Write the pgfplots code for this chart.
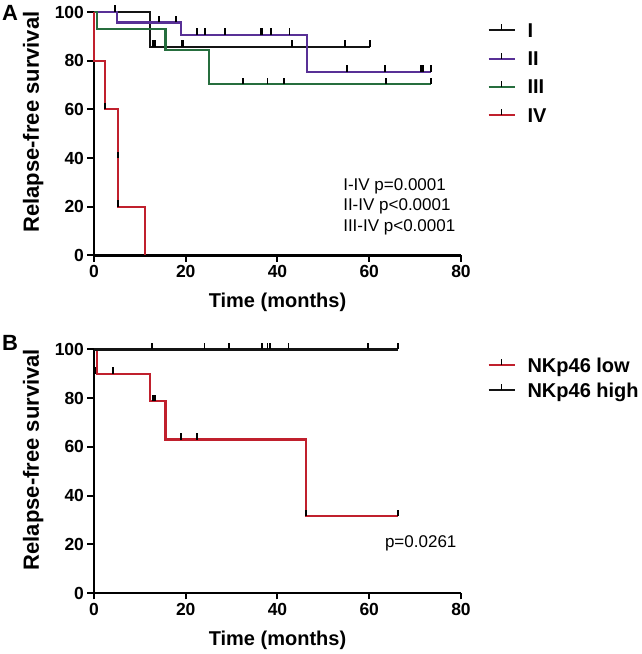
\documentclass[border=0pt]{standalone}
\usepackage{fontspec}
\setmainfont{Liberation Sans}
\usepackage{pgfplots}
\pgfplotsset{compat=1.18}
\definecolor{cI}{RGB}{20,20,20}
\definecolor{cII}{RGB}{88,48,150}
\definecolor{cIII}{RGB}{38,110,62}
\definecolor{cIV}{RGB}{192,32,45}
\pgfdeclareplotmark{cens}{\pgfpathmoveto{\pgfqpoint{0pt}{0pt}}\pgfpathlineto{\pgfqpoint{0pt}{6.5pt}}\pgfusepathqstroke}
\pgfplotsset{
  kmaxis/.style={
    scale only axis, width=367pt, height=243.5pt,
    xmin=0, xmax=80, ymin=0, ymax=100,
    axis x line*=bottom, axis y line*=left,
    axis line style={line width=2.3pt,-},
    xtick={0,20,...,80}, ytick={0,20,...,100},
    tick align=outside, major tick length=6.5pt,
    tick style={black,line width=2pt},
    /pgf/number format/assume math mode=true,
    ticklabel style={font=\fontsize{17.5}{17.5}\selectfont\bfseries},
    xlabel={Time (months)}, ylabel={Relapse-free survival},
    xlabel style={font=\fontsize{20}{20}\selectfont\bfseries, at={(axis description cs:0.5,-0.193)},anchor=center},
    ylabel style={font=\fontsize{22}{22}\selectfont\bfseries, at={(axis description cs:-0.166,0.548)},anchor=center},
    clip=false,
    legend cell align=left,
    legend image code/.code={
      \path[draw=none,fill=none] (0pt,-7pt) rectangle (26pt,7pt);
      \draw[##1,line width=2pt] (0pt,0pt)--(26pt,0pt);
      \draw[black,line width=1.8pt] (13pt,0pt)--(13pt,6pt);},
    legend style={draw=none, fill=none, anchor=north west,
      font=\fontsize{20}{20}\selectfont\bfseries,
      nodes={inner sep=0pt, text height=14pt, text depth=0pt},
      /tikz/every odd column/.append style={column sep=12pt}},
  },
  km/.style={const plot, line width=2.2pt, #1},
  cz/.style={only marks, mark=cens, mark options={black,solid,line width=1.8pt}, forget plot},
}
\begin{document}
\begin{tikzpicture}
\useasboundingbox (0,0) rectangle (641pt,654pt);
% ---------------- Panel A
\begin{axis}[kmaxis, at={(94pt,398.5pt)}, anchor=origin,
  legend style={at={(1.0636,0.963)}, row sep=14.3pt}]
\addplot[km=cI] coordinates {(0,100) (12.2,85.7) (60.1,85.7)};
\addlegendentry{I}
\addplot[km=cII] coordinates {(0,100) (5,95.7) (19,90.6) (46.5,75.5) (73.5,75.5)};
\addlegendentry{II}
\addplot[km=cIII] coordinates {(0,100) (0.6,92.9) (15.6,84.5) (25,70.4) (73.5,70.4)};
\addlegendentry{III}
\addplot[km=cIV] coordinates {(0,100) (0,80) (2.4,60) (5.2,20) (11.1,0)};
\addlegendentry{IV}
% censor marks
\addplot[cz] coordinates {(4.6,100) (12.9,85.7) (13.3,85.7) (19.1,85.7) (19.4,85.7) (43.1,85.7) (54.8,85.7) (60.1,85.7)};
\addplot[cz] coordinates {(14.1,95.7) (17.8,95.7) (22.4,90.6) (24.2,90.6) (28.5,90.6) (36.3,90.6) (36.7,90.6) (38.5,90.6) (42.6,90.6) (55.2,75.5) (63.5,75.5) (71.3,75.5) (71.7,75.5) (73.5,75.5)};
\addplot[cz] coordinates {(32.4,70.4) (37.8,70.4) (41.5,70.4) (63.7,70.4) (73.5,70.4)};
\addplot[cz] coordinates {(2.4,60) (5.2,40) (5.2,20)};
\node[anchor=west, align=left, font=\fontsize{17}{20.7}\selectfont, inner sep=0pt] at (axis cs:54.3,20) {I-IV p=0.0001\\II-IV p\textless0.0001\\III-IV p\textless0.0001};
\end{axis}
% ---------------- Panel B
\begin{axis}[kmaxis, at={(94pt,61pt)}, anchor=origin,
  legend style={at={(1.0636,0.973)}, row sep=11pt}]
\addplot[km=cIV] coordinates {(0,100) (0.6,90) (12.2,78.75) (15.6,63) (46.3,31.5) (66.3,31.5)};
\addlegendentry{NKp46 low}
\addplot[km=cI] coordinates {(0,100) (66.3,100)};
\addlegendentry{NKp46 high}
\addplot[cz] coordinates {(0.3,90) (4.1,90) (12.8,78.75) (13.3,78.75) (19,63) (22.4,63) (46.3,31.5) (66.3,31.5)};
\addplot[cz] coordinates {(12.6,100) (24.1,100) (29.4,100) (36.7,100) (37.8,100) (38.3,100) (42.4,100) (59.8,100) (66.3,100)};
\node[anchor=west, font=\fontsize{17}{17}\selectfont, inner sep=0pt] at (axis cs:63.4,20.6) {p=0.0261};
\end{axis}
% panel letters
\node[anchor=north west, inner sep=0pt, font=\fontsize{22}{22}\selectfont\bfseries] at (2pt,649pt) {A};
\node[anchor=north west, inner sep=0pt, font=\fontsize{22}{22}\selectfont\bfseries] at (2pt,319pt) {B};
\end{tikzpicture}
\end{document}
